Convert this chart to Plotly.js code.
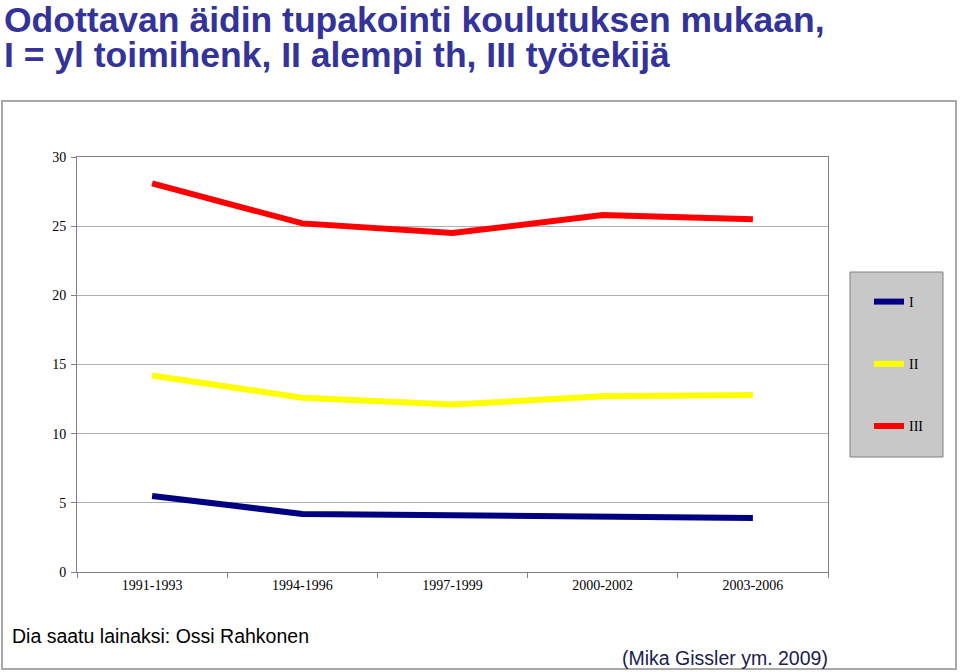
<!DOCTYPE html>
<html>
<head>
<meta charset="utf-8">
<script src="https://cdn.plot.ly/plotly-3.0.1.min.js"></script>
<style>html,body{margin:0;padding:0;background:#fff;}#chart{width:960px;height:672px;}</style>
</head>
<body>
<div id="chart"></div>
<script>
const periods = ["1991-1993", "1994-1996", "1997-1999", "2000-2002", "2003-2006"];
const seriesNames = ["I", "II", "III"];
const valuesI = [5.5, 4.2, 4.1, 4.0, 3.9];
const valuesII = [14.2, 12.6, 12.1, 12.7, 12.8];
const valuesIII = [28.1, 25.2, 24.5, 25.8, 25.5];
const yTicks = [0, 5, 10, 15, 20, 25, 30];
const titleLine1 = "Odottavan äidin tupakointi koulutuksen mukaan,";
const titleLine2 = "I = yl toimihenk, II alempi th, III työtekijä";
const sourceLeft = "Dia saatu lainaksi: Ossi Rahkonen";
const sourceRight = "(Mika Gissler ym. 2009)";

const colors = ["#000080", "#ffff00", "#ff0000"];
const allValues = [valuesI, valuesII, valuesIII];

const L = 77, R = 828, T = 157, B = 572, W = 960, H = 672;
const pw = R - L, ph = B - T;
const px = x => (x - L) / pw;
const py = y => (B - y) / ph;

const traces = allValues.map((vals, i) => ({
  type: "scatter",
  mode: "lines",
  x: periods,
  y: vals,
  name: seriesNames[i],
  legendgroup: "g" + i,
  line: {color: colors[i], width: 6},
  hoverinfo: "skip"
}));

const serif = "Liberation Serif, Times New Roman, serif";
const sans = "Liberation Sans, Arial, sans-serif";

const layout = {
  width: W, height: H,
  margin: {l: L, r: W - R, t: T, b: H - B, pad: 0},
  paper_bgcolor: "#ffffff",
  plot_bgcolor: "#ffffff",
  showlegend: true,
  legend: {
    x: px(869), xanchor: "left",
    y: py(286), yanchor: "top",
    bgcolor: "rgba(0,0,0,0)",
    borderwidth: 0,
    font: {family: serif, size: 14, color: "#000"},
    tracegroupgap: 41,
    traceorder: "grouped"
  },
  xaxis: {
    type: "category",
    range: [-0.5, 4.5],
    tickson: "boundaries",
    ticks: "outside", ticklen: 5, tickcolor: "#808080",
    showline: true, linecolor: "#808080", linewidth: 1, mirror: true,
    showgrid: false,
    tickfont: {family: serif, size: 14, color: "#000"},
    fixedrange: true
  },
  yaxis: {
    range: [0, 30],
    tickvals: yTicks,
    ticks: "outside", ticklen: 5, tickcolor: "#808080",
    showline: true, linecolor: "#808080", linewidth: 1, mirror: true,
    showgrid: true, gridcolor: "#b0b0b0", gridwidth: 1,
    zeroline: false,
    tickfont: {family: serif, size: 14, color: "#000"},
    ticklabelstandoff: 2,
    fixedrange: true
  },
  shapes: [
    {type: "rect", xref: "paper", yref: "paper",
     x0: px(2), x1: px(956), y0: py(669), y1: py(101),
     line: {color: "#a8a8a8", width: 2}, fillcolor: "rgba(0,0,0,0)", layer: "below"},
    {type: "rect", xref: "paper", yref: "paper",
     x0: px(850), x1: px(943), y0: py(457), y1: py(272),
     line: {color: "#808080", width: 1}, fillcolor: "#c8c8c8", layer: "above"}
  ],
  annotations: [
    {text: "<b>" + titleLine1 + "</b>", xref: "paper", yref: "paper",
     x: px(2), xanchor: "left", y: py(20), yanchor: "middle", showarrow: false,
     font: {family: sans, size: 35.5, color: "#33339a"}},
    {text: "<b>" + titleLine2 + "</b>", xref: "paper", yref: "paper",
     x: px(2), xanchor: "left", y: py(55), yanchor: "middle", showarrow: false,
     font: {family: sans, size: 35.5, color: "#33339a"}},
    {text: sourceLeft, xref: "paper", yref: "paper",
     x: px(10), xanchor: "left", y: py(636), yanchor: "middle", showarrow: false,
     font: {family: sans, size: 19.5, color: "#000"}},
    {text: sourceRight, xref: "paper", yref: "paper",
     x: px(830), xanchor: "right", y: py(658), yanchor: "middle", showarrow: false,
     font: {family: sans, size: 19.5, color: "#1a2050"}}
  ]
};

Plotly.newPlot("chart", traces, layout, {staticPlot: true, displayModeBar: false});
</script>
</body>
</html>
